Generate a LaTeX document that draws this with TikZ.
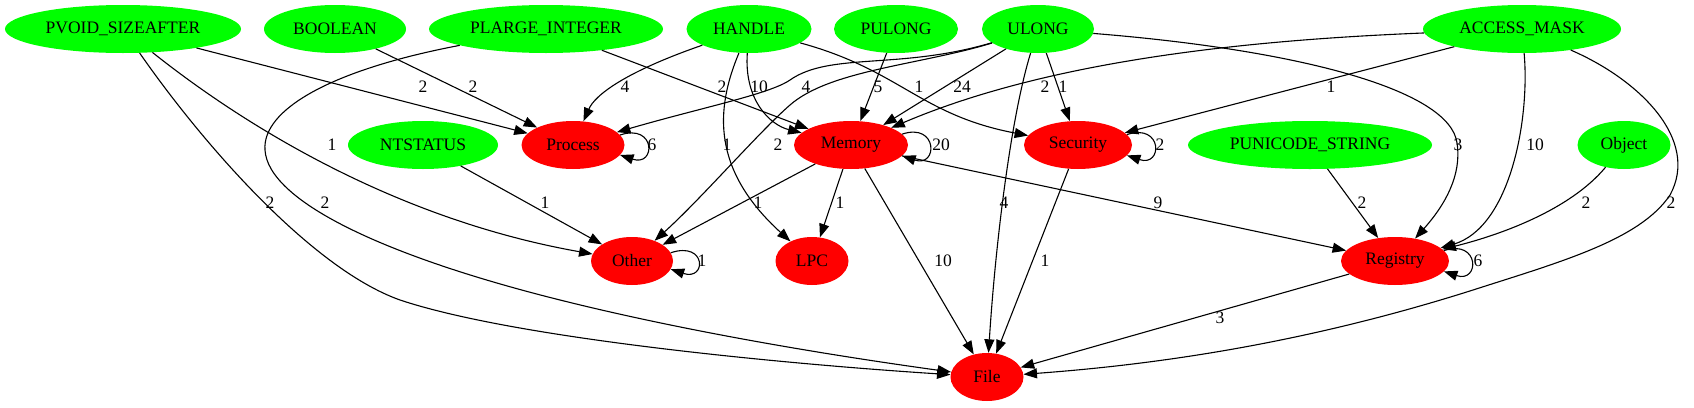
\documentclass[tikz,border=0pt]{standalone}
\usepackage{fontspec}
\setmainfont{Liberation Serif}
\usetikzlibrary{shapes.geometric,arrows.meta}
\begin{document}
\begin{tikzpicture}[x=1pt,y=-1pt,
  typ/.style={ellipse,fill=green,inner sep=0pt,minimum height=48pt,font=\fontsize{17.5}{21}\selectfont},
  grp/.style={ellipse,fill=red,inner sep=0pt,minimum height=48pt,font=\fontsize{17.5}{21}\selectfont},
  link/.style={line width=1.1pt,-{Triangle[length=13.5pt,width=10pt]}},
  num/.style={inner sep=0pt,font=\fontsize{17.5}{21}\selectfont}]
 \useasboundingbox (0,0) rectangle (1694,407);
 % argument types
 \node[typ,minimum width=236pt] (pvoid) at (123,29) {PVOID\_SIZEAFTER};
 \node[typ,minimum width=142pt] (boolean) at (335,29) {BOOLEAN};
 \node[typ,minimum width=234pt] (plarge) at (546,29) {PLARGE\_INTEGER};
 \node[typ,minimum width=125pt] (handle) at (749,29) {HANDLE};
 \node[typ,minimum width=124pt] (pulong) at (896,29) {PULONG};
 \node[typ,minimum width=112pt] (ulong) at (1038,29) {ULONG};
 \node[typ,minimum width=198pt] (access) at (1522,29) {ACCESS\_MASK};
 \node[typ,minimum width=150pt] (ntstatus) at (423,145) {NTSTATUS};
 \node[typ,minimum width=244pt] (punicode) at (1310,145) {PUNICODE\_STRING};
 \node[typ,minimum width=93pt] (object) at (1624,145) {Object};
 % groups
 \node[grp,minimum width=103pt] (process) at (573,145) {Process};
 \node[grp,minimum width=114pt] (memory) at (851,145) {Memory};
 \node[grp,minimum width=108pt] (security) at (1078,145) {Security};
 \node[grp,minimum width=82pt] (other) at (632,261) {Other};
 \node[grp,minimum width=73pt] (lpc) at (812,261) {LPC};
 \node[grp,minimum width=108pt] (registry) at (1395,261) {Registry};
 \node[grp,minimum width=73pt] (file) at (987,377) {File};
 % edges
 \draw[link] (pvoid) -- (process);
 \draw[link] (pvoid) .. controls (250,130) and (400,220) .. (other);
 \draw[link] (pvoid) .. controls (200,140) and (310,268) .. (400,300) .. controls (520,340) and (800,365) .. (file);
 \draw[link] (boolean) -- (process);
 \draw[link] (plarge) .. controls (330,70) and (262,110) .. (265,150) .. controls (268,200) and (380,255) .. (560,300) .. controls (700,335) and (850,358) .. (file);
 \draw[link] (plarge) -- (memory);
 \draw[link] (handle) .. controls (625,72) and (595,95) .. (process);
 \draw[link] (handle) .. controls (715,110) and (712,170) .. (lpc);
 \draw[link] (handle) .. controls (744,100) and (770,125) .. (memory);
 \draw[link] (handle) .. controls (900,70) and (920,115) .. (security);
 \draw[link] (pulong) -- (memory);
 \draw[link] (ulong) .. controls (900,70) and (830,52) .. (790,80) .. controls (770,94) and (700,108) .. (process);
 \draw[link] (ulong) .. controls (920,65) and (830,70) .. (790,105) .. controls (760,131) and (700,200) .. (other);
 \draw[link] (ulong) -- (memory);
 \draw[link] (ulong) -- (security);
 \draw[link] (ulong) .. controls (1010,120) and (995,250) .. (file);
 \draw[link] (ulong) .. controls (1300,50) and (1450,90) .. (1457,143) .. controls (1462,175) and (1445,205) .. (registry);
 \draw[link] (access) .. controls (1250,40) and (1050,60) .. (memory);
 \draw[link] (access) -- (security);
 \draw[link] (access) .. controls (1530,120) and (1510,228) .. (registry);
 \draw[link] (access) .. controls (1640,80) and (1700,140) .. (1670,195) .. controls (1640,240) and (1560,262) .. (1473,290) .. controls (1300,345) and (1150,365) .. (file);
 \draw[link] (ntstatus) -- (other);
 \draw[link] (process.12) .. controls +(36,-12) and +(36,12) .. (process.-12);
 \draw[link] (memory.12) .. controls +(36,-12) and +(36,12) .. (memory.-12);
 \draw[link] (memory) -- (other);
 \draw[link] (memory) -- (lpc);
 \draw[link] (memory) -- (file);
 \draw[link] (memory) -- (registry);
 \draw[link] (security.12) .. controls +(36,-12) and +(36,12) .. (security.-12);
 \draw[link] (security) -- (file);
 \draw[link] (punicode) -- (registry);
 \draw[link] (object) .. controls (1570,210) and (1500,235) .. (registry);
 \draw[link] (other.12) .. controls +(36,-12) and +(36,12) .. (other.-12);
 \draw[link] (registry.12) .. controls +(36,-12) and +(36,12) .. (registry.-12);
 \draw[link] (registry) -- (file);
 % edge counts
 \node[num] (n1) at (423,87) {2};
 \node[num] (n2) at (473,87) {2};
 \node[num] (n3) at (332,145) {1};
 \node[num] (n4) at (270,203) {2};
 \node[num] (n5) at (325,203) {2};
 \node[num] (n6) at (722,87) {2};
 \node[num] (n7) at (625,87) {4};
 \node[num] (n8) at (759,87) {10};
 \node[num] (n9) at (727,145) {1};
 \node[num] (n10) at (919,87) {1};
 \node[num] (n11) at (878,87) {5};
 \node[num] (n12) at (806,87) {4};
 \node[num] (n13) at (778,145) {2};
 \node[num] (n14) at (962,87) {24};
 \node[num] (n15) at (1063,87) {1};
 \node[num] (n16) at (1004,203) {4};
 \node[num] (n17) at (1458,145) {3};
 \node[num] (n18) at (1045,87) {2};
 \node[num] (n19) at (1331,87) {1};
 \node[num] (n20) at (1535,145) {10};
 \node[num] (n21) at (1671,203) {2};
 \node[num] (n22) at (545,203) {1};
 \node[num] (n23) at (652,145) {6};
 \node[num] (n24) at (941,145) {20};
 \node[num] (n25) at (758,203) {1};
 \node[num] (n26) at (840,203) {1};
 \node[num] (n27) at (943,261) {10};
 \node[num] (n28) at (1158,203) {9};
 \node[num] (n29) at (1160,145) {2};
 \node[num] (n30) at (1045,261) {1};
 \node[num] (n31) at (1362,203) {2};
 \node[num] (n32) at (1586,203) {2};
 \node[num] (n33) at (702,261) {1};
 \node[num] (n34) at (1478,261) {6};
 \node[num] (n35) at (1220,318) {3};
\end{tikzpicture}
\end{document}
